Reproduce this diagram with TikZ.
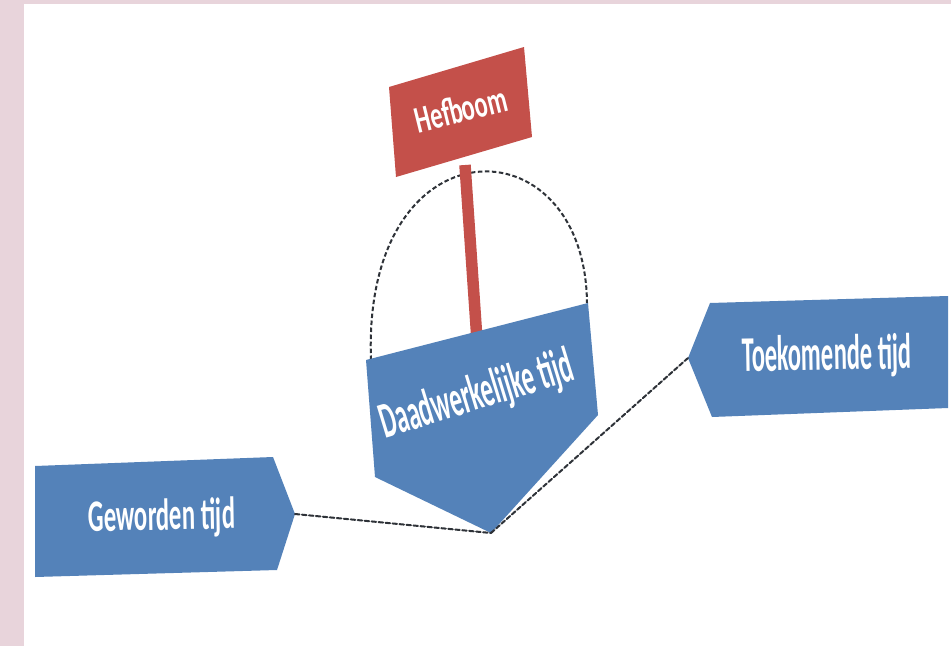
\documentclass[tikz,border=0pt]{standalone}
\usepackage{fontspec}
\setmainfont{Carlito}
\newfontfamily\hefletter[FakeStretch=0.64]{Carlito}
\newfontfamily\daadletter[FakeStretch=0.49]{Carlito}
\newfontfamily\gewletter[FakeStretch=0.55]{Carlito}
\newfontfamily\toekletter[FakeStretch=0.49]{Carlito}
\usepackage{tkz-euclide}
\definecolor{tijdblauw}{HTML}{5482B9}
\definecolor{hefrood}{HTML}{C4504A}
\definecolor{rand}{HTML}{E8D4DB}
\definecolor{stippel}{HTML}{2E3238}
\tikzset{
  vlak/.style={fill=tijdblauw},
  stippellijn/.style={color=stippel,line width=2pt,dash pattern=on 4.5pt off 2.5pt},
  tekst/.style={text=white,anchor=base,inner sep=0pt}
}

\begin{document}
\begin{tikzpicture}[x=1pt,y=-1pt]
    % cadre
    \useasboundingbox (0,0) rectangle (951,646);
    \fill[white] (0,0) rectangle (951,646);
    \fill[rand] (0,0) rectangle (24,646);
    \fill[rand] (0,0) rectangle (951,4);
    % définition des points
    \tkzDefPoints{389/87/H1, 524/47/H2, 532/137/H3, 396/177/H4, 465/165/S1, 477/340/S2}
    \tkzDefPoints{366/360/D1, 588/303/D2, 598/415/D3, 491/533/D4, 375/477/D5}
    \tkzDefPoints{35/466/G1, 273/457/G2, 295/514/G3, 277/570/G4, 35/577/G5}
    \tkzDefPoints{688/358/T1, 710/303/T2, 948/296/T3, 948/408/T4, 712/417/T5}
    \tkzDefPoints{371/360/A1, 362/119/A2, 585/119/A3, 587/303/A4}
    % boog en steel
    \draw[stippellijn] (A1) .. controls (A2) and (A3) .. (A4);
    \tkzDrawSegment[color=hefrood,line width=11.5pt,line cap=butt](S1,S2)
    % vlakken
    \tkzFillPolygon[vlak](D1,D2,D3,D4,D5)
    \tkzFillPolygon[vlak](G1,G2,G3,G4,G5)
    \tkzFillPolygon[vlak](T1,T2,T3,T4,T5)
    \tkzFillPolygon[fill=hefrood](H1,H2,H3,H4)
    % liaisons
    \tkzDrawSegments[stippellijn](G3,D4 D4,T1)
    % textes
    \node[tekst,rotate=14,font=\hefletter\bfseries\fontsize{38}{42}\selectfont] (hefboom) at (464,122) {Hefboom};
    \node[tekst,rotate=17,font=\daadletter\bfseries\fontsize{51}{55}\selectfont] (daad) at (481,409) {Daadwerkelijke tijd};
    \node[tekst,rotate=1,font=\gewletter\bfseries\fontsize{45}{50}\selectfont] (geworden) at (162,530) {Geworden tijd};
    \node[tekst,rotate=1,font=\toekletter\bfseries\fontsize{50}{54}\selectfont] (toekomend) at (827,370) {Toekomende tijd};
\end{tikzpicture}
\end{document}
